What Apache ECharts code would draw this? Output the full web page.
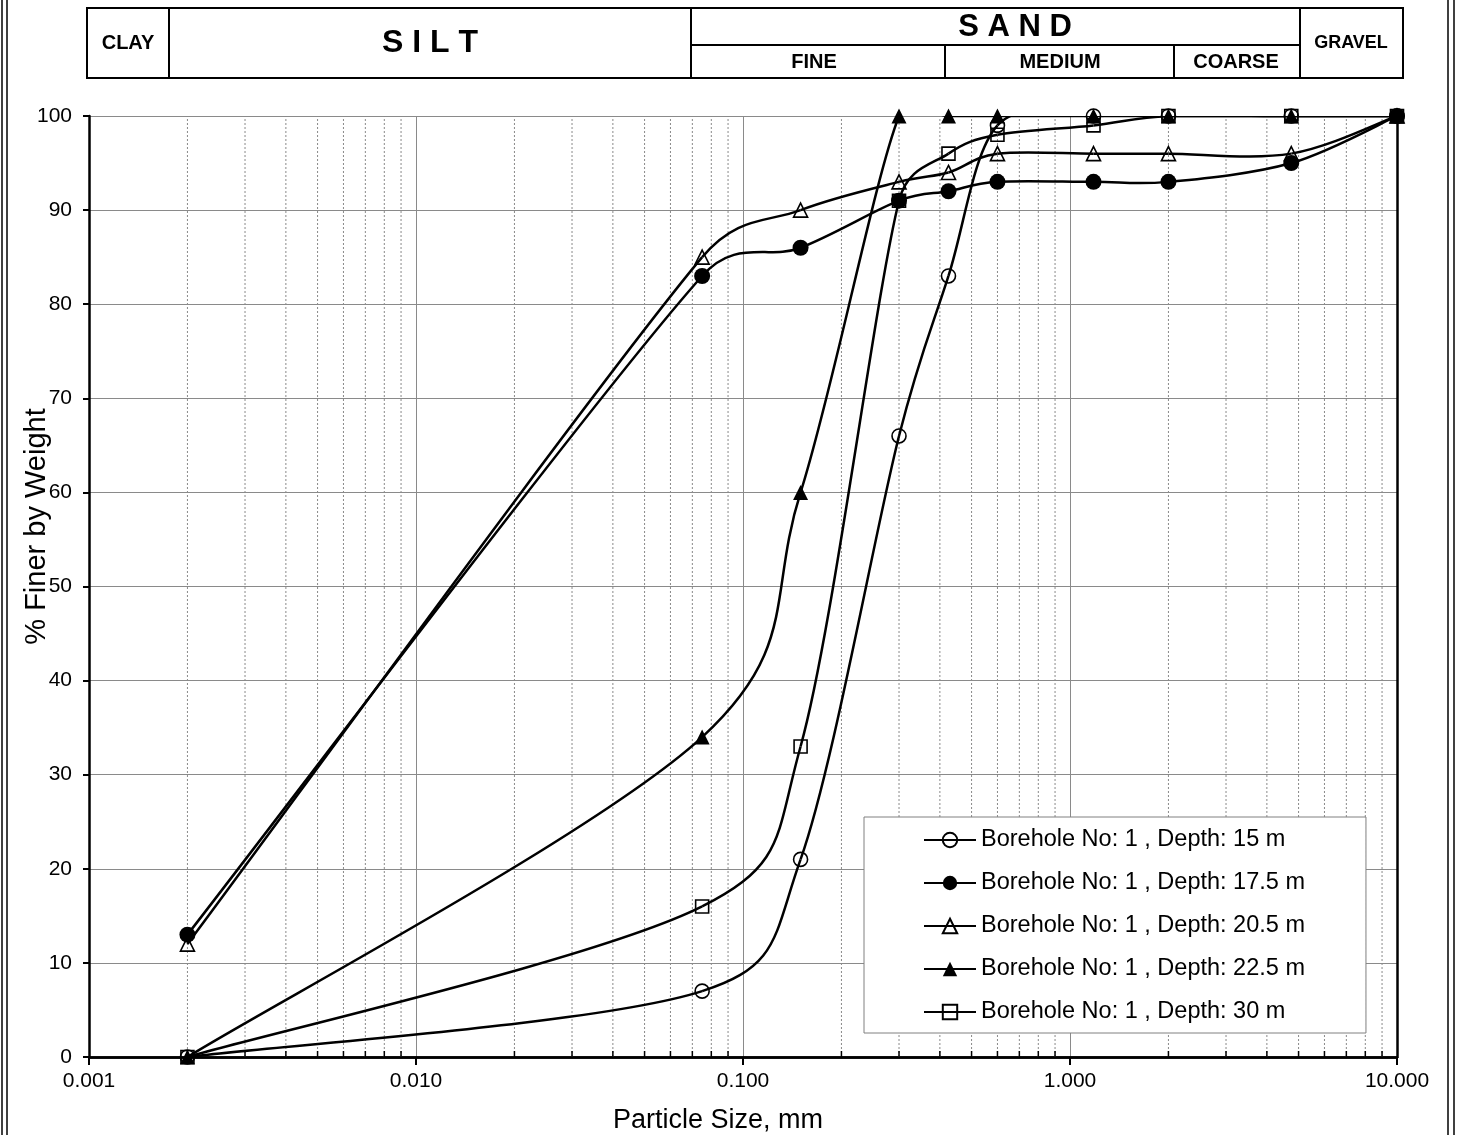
<!DOCTYPE html>
<html>
<head>
<meta charset="utf-8">
<script src="https://cdn.jsdelivr.net/npm/echarts@6/dist/echarts.min.js"></script>
<style>
html,body{margin:0;padding:0;background:#fff;}
#chart{width:1457px;height:1135px;}
</style>
</head>
<body>
<div id="chart"></div>
<script>
// ---- data ----
const sizes = [0.002, 0.075, 0.15, 0.3, 0.425, 0.6, 1.18, 2, 4.75, 10];
const seriesNames = [
  'Borehole No: 1 , Depth: 15 m',
  'Borehole No: 1 , Depth: 17.5 m',
  'Borehole No: 1 , Depth: 20.5 m',
  'Borehole No: 1 , Depth: 22.5 m',
  'Borehole No: 1 , Depth: 30 m'
];
const depth15   = [0, 7, 21, 66, 83, 99, 100, 100, 100, 100];
const depth17_5 = [13, 83, 86, 91, 92, 93, 93, 93, 95, 100];
const depth20_5 = [12, 85, 90, 93, 94, 96, 96, 96, 96, 100];
const depth22_5 = [0, 34, 60, 100, 100, 100, 100, 100, 100, 100];
const depth30   = [0, 16, 33, 91, 96, 98, 99, 100, 100, 100];
const xTickLabels = ['0.001', '0.010', '0.100', '1.000', '10.000'];
const yTicks = [0, 10, 20, 30, 40, 50, 60, 70, 80, 90, 100];
// minor log positions (2..9 x 10^k)
const minorX = [];
[0.001, 0.01, 0.1, 1].forEach(function (d) {
  for (let m = 2; m <= 9; m++) minorX.push(+(m * d).toPrecision(3));
});

const FONT = "'Liberation Sans', Arial, sans-serif";
const chart = echarts.init(document.getElementById('chart'));

function pairs(vals) { return sizes.map(function (s, i) { return [s, vals[i]]; }); }

const markerDefs = [
  { data: depth15,   symbol: 'circle',   size: 14, filled: false },
  { data: depth17_5, symbol: 'circle',   size: 16, filled: true },
  { data: depth20_5, symbol: 'triangle', size: 14, filled: false },
  { data: depth22_5, symbol: 'triangle', size: 15, filled: true },
  { data: depth30,   symbol: 'rect',     size: 13, filled: false }
];

// smooth curves (spreadsheet-style cardinal spline with capped tangents), drawn via api.coord
function curveSeries(vals) {
  return {
    type: 'custom',
    xAxisIndex: 0, yAxisIndex: 0,
    data: pairs(vals),
    encode: { x: 0, y: 1 },
    silent: true,
    clip: true,
    z: 2,
    animation: false,
    renderItem: function (params, api) {
      const i = params.dataIndexInside;
      const n = params.dataInsideLength;
      if (i >= n - 1) return { type: 'group', children: [] };
      function P(k) {
        k = Math.max(0, Math.min(n - 1, k));
        return api.coord([api.value(0, k), api.value(1, k)]);
      }
      function dist(a, b) { return Math.hypot(b[0] - a[0], b[1] - a[1]); }
      const p0 = P(i - 1), p1 = P(i), p2 = P(i + 1), p3 = P(i + 2);
      const d12 = dist(p1, p2), d02 = dist(p0, p2), d13 = dist(p1, p3);
      const t1 = d02 > 0 ? Math.min(1 / 6, 0.5 * d12 / d02) : 0;
      const t2 = d13 > 0 ? Math.min(1 / 6, 0.5 * d12 / d13) : 0;
      return {
        type: 'bezierCurve',
        shape: {
          x1: p1[0], y1: p1[1], x2: p2[0], y2: p2[1],
          cpx1: p1[0] + (p2[0] - p0[0]) * t1, cpy1: p1[1] + (p2[1] - p0[1]) * t1,
          cpx2: p2[0] - (p3[0] - p1[0]) * t2, cpy2: p2[1] - (p3[1] - p1[1]) * t2
        },
        style: { stroke: '#000', lineWidth: 2.5, fill: null }
      };
    }
  };
}

const markerSeries = markerDefs.map(function (m, i) {
  return {
    name: seriesNames[i],
    type: 'line',
    xAxisIndex: 0, yAxisIndex: 0,
    data: pairs(m.data),
    symbol: m.symbol,
    symbolSize: m.size,
    showAllSymbol: true,
    clip: false,
    lineStyle: { color: '#000', width: 0, opacity: 0 },
    itemStyle: {
      color: m.filled ? '#000' : 'rgba(255,255,255,0)',
      borderColor: '#000',
      borderWidth: m.filled ? 0 : 1.6
    },
    emphasis: { disabled: true },
    z: 3,
    animation: false
  };
});

const minorSeries = {
  type: 'custom',
  xAxisIndex: 0, yAxisIndex: 0,
  data: minorX.map(function (v) { return [v]; }),
  encode: { x: 0 },
  silent: true,
  z: 1,
  renderItem: function (params, api) {
    const v = api.value(0);
    const p0 = api.coord([v, 0]);
    const p1 = api.coord([v, 100]);
    return {
      type: 'group',
      children: [
        { type: 'line', shape: { x1: p0[0], y1: p0[1], x2: p1[0], y2: p1[1] },
          style: { stroke: '#8a8a8a', lineWidth: 1, lineDash: [2, 2] } },
        { type: 'line', shape: { x1: p0[0], y1: p0[1], x2: p0[0], y2: p0[1] - 6 },
          style: { stroke: '#000', lineWidth: 1.5 } }
      ]
    };
  },
  animation: false
};

// header (soil classification) graphics
function hline(x1, x2, y) { return { type: 'line', shape: { x1: x1, y1: y, x2: x2, y2: y }, style: { stroke: '#000', lineWidth: 2 } }; }
function vline(x, y1, y2, w) { return { type: 'line', shape: { x1: x, y1: y1, x2: x, y2: y2 }, style: { stroke: '#000', lineWidth: w || 2 } }; }
function label(txt, x, y, size) {
  return { type: 'text', x: x, y: y, style: { text: txt, fill: '#000', font: 'bold ' + size + 'px ' + FONT, align: 'center', verticalAlign: 'middle' } };
}

const graphics = [
  { type: 'rect', shape: { x: 87, y: 8, width: 1316, height: 70 }, style: { fill: 'none', stroke: '#000', lineWidth: 2 } },
  vline(169, 8, 78), vline(691, 8, 78), vline(1300, 8, 78),
  hline(691, 1300, 45),
  vline(945, 45, 78), vline(1174, 45, 78),
  label('CLAY', 128, 43, 20),
  label('S I L T', 430, 43, 32),
  label('S A N D', 1015, 27, 31),
  label('FINE', 814, 62, 20),
  label('MEDIUM', 1060, 62, 20),
  label('COARSE', 1236, 62, 20),
  label('GRAVEL', 1351, 43, 18),
  // outer page frame (double lines)
  vline(2, 0, 1135, 1.5), vline(7, 0, 1135, 1.5),
  vline(1448, 0, 1135, 1.5), vline(1454, 0, 1135, 1.5)
];

const curves = [depth15, depth17_5, depth20_5, depth22_5, depth30].map(curveSeries);

const option = {
  backgroundColor: '#fff',
  animation: false,
  grid: { left: 89, right: 60, top: 116, bottom: 78, containLabel: false, outerBoundsMode: 'none' },
  graphic: graphics,
  legend: {
    orient: 'vertical',
    left: 864, top: 817,
    padding: [11, 61, 9, 59],
    itemWidth: 52, itemHeight: 18, itemGap: 19,
    backgroundColor: '#fff',
    borderColor: '#808080', borderWidth: 1,
    textStyle: { fontSize: 23.5, color: '#000', fontFamily: FONT, lineHeight: 24 },
    lineStyle: { color: '#000', width: 2, opacity: 1 },
    data: seriesNames,
    selectedMode: false
  },
  xAxis: [
    {
      type: 'log', logBase: 10, min: 0.001, max: 10,
      name: 'Particle Size, mm', nameLocation: 'middle', nameGap: 50, nameMoveOverlap: false,
      nameTextStyle: { fontSize: 27, color: '#000', fontFamily: FONT, padding: [0, 50, 0, 0] },
      axisLine: { lineStyle: { color: '#000', width: 2.5 } },
      axisTick: { show: true, inside: false, length: 8, lineStyle: { color: '#000', width: 2 } },
      axisLabel: {
        fontSize: 21, color: '#000', fontFamily: FONT, margin: 14,
        formatter: function (v) {
          const idx = Math.round(Math.log10(v) + 3);
          return xTickLabels[idx] !== undefined ? xTickLabels[idx] : '';
        }
      },
      splitLine: { show: true, lineStyle: { color: '#8a8a8a', width: 1 } },
      minorTick: { show: false }, minorSplitLine: { show: false }
    },
    {
      type: 'log', logBase: 10, min: 0.001, max: 10, position: 'top',
      axisLine: { show: true, lineStyle: { color: '#000', width: 2.5 } },
      axisTick: { show: false }, axisLabel: { show: false }, splitLine: { show: false }
    }
  ],
  yAxis: [
    {
      type: 'value', min: 0, max: 100, interval: 10,
      name: '% Finer by Weight', nameLocation: 'middle', nameGap: 38, nameRotate: 90, nameMoveOverlap: false,
      nameTextStyle: { fontSize: 29, color: '#000', fontFamily: FONT, padding: [0, 0, 0, 120] },
      axisLine: { show: true, lineStyle: { color: '#000', width: 2.5 } },
      axisTick: { show: true, length: 6, lineStyle: { color: '#000', width: 2 } },
      axisLabel: {
        fontSize: 21, color: '#000', fontFamily: FONT, margin: 17,
        formatter: function (v) { return yTicks.indexOf(v) >= 0 ? String(v) : ''; }
      },
      splitLine: { show: true, lineStyle: { color: '#8a8a8a', width: 1 } }
    },
    {
      type: 'value', min: 0, max: 100, position: 'right',
      axisLine: { show: true, lineStyle: { color: '#000', width: 2.5 } },
      axisTick: { show: false }, axisLabel: { show: false }, splitLine: { show: false }
    }
  ],
  series: [minorSeries].concat(curves, markerSeries)
};
chart.setOption(option);
</script>
</body>
</html>
